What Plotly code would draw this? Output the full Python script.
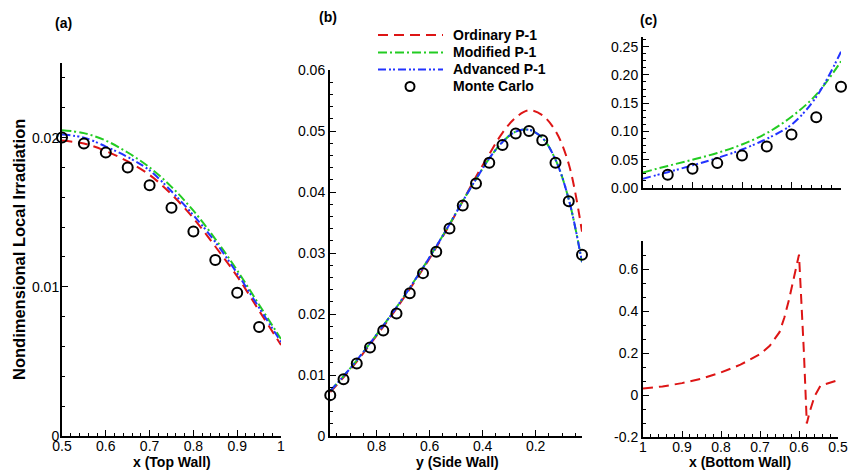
import plotly.graph_objects as go

FONT = "Liberation Sans, Arial, Helvetica, sans-serif"
RED = "#dd1515"
GREEN = "#22cc22"
BLUE = "#2233ff"
W, H = 849, 470

# ---------------- data ----------------
# (a) Top wall
a_x = [0.5, 0.55, 0.6, 0.65, 0.7, 0.75, 0.8, 0.85, 0.9, 0.95, 1.0]
a_ord = [0.0198, 0.0196, 0.0191, 0.0184, 0.0175, 0.0162, 0.0146, 0.0127, 0.0107, 0.0084, 0.0061]
a_mod = [0.0205, 0.0203, 0.0198, 0.0190, 0.0180, 0.0167, 0.0151, 0.0132, 0.0111, 0.0088, 0.0065]
a_adv = [0.0202, 0.0200, 0.0194, 0.0187, 0.0178, 0.0164, 0.0148, 0.0130, 0.0109, 0.0086, 0.0063]
a_mc_x = [0.5, 0.55, 0.6, 0.65, 0.7, 0.75, 0.8, 0.85, 0.9, 0.95]
a_mc = [0.0200, 0.0196, 0.0190, 0.0180, 0.0168, 0.0153, 0.0137, 0.0118, 0.0096, 0.0073]

# (b) Side wall
b_x = [0.975, 0.925, 0.875, 0.825, 0.775, 0.725, 0.675, 0.625, 0.575, 0.525,
       0.475, 0.425, 0.375, 0.325, 0.275, 0.225, 0.175, 0.125, 0.075, 0.025]
b_ord = [0.0072, 0.0096, 0.0122, 0.0150, 0.0179, 0.0209, 0.0241, 0.0274, 0.0309, 0.0346,
         0.0385, 0.0425, 0.0462, 0.0497, 0.0522, 0.0534, 0.0526, 0.0500, 0.0446, 0.0335]
b_mod = [0.0074, 0.0098, 0.0124, 0.0152, 0.0181, 0.0211, 0.0243, 0.0276, 0.0311, 0.0347,
         0.0385, 0.0421, 0.0455, 0.0482, 0.0499, 0.0502, 0.0489, 0.0453, 0.0388, 0.0285]
b_adv = [0.0074, 0.0098, 0.0124, 0.0152, 0.0181, 0.0211, 0.0243, 0.0276, 0.0311, 0.0347,
         0.0385, 0.0421, 0.0455, 0.0482, 0.0499, 0.0502, 0.0489, 0.0453, 0.0388, 0.0285]
b_mc = [0.0067, 0.0093, 0.0119, 0.0145, 0.0173, 0.0201, 0.0234, 0.0267, 0.0302, 0.0340,
        0.0378, 0.0414, 0.0448, 0.0477, 0.0496, 0.0500, 0.0485, 0.0448, 0.0385, 0.0297]

# (c) Bottom wall, upper part
c_x = [1.0, 0.9375, 0.875, 0.8125, 0.75, 0.6875, 0.625, 0.5625, 0.5]
c_mod = [0.0275, 0.039, 0.050, 0.062, 0.077, 0.097, 0.126, 0.165, 0.224]
c_adv = [0.0165, 0.028, 0.040, 0.053, 0.068, 0.087, 0.112, 0.161, 0.241]
c_mc_x = [0.9375, 0.875, 0.8125, 0.75, 0.6875, 0.625, 0.5625, 0.5]
c_mc = [0.0235, 0.034, 0.044, 0.0576, 0.0735, 0.0947, 0.125, 0.179]

# (c) Bottom wall, lower part (Ordinary P-1)
d_x = [1.0, 0.95, 0.9, 0.85, 0.8, 0.75, 0.7, 0.675, 0.65, 0.6375, 0.625, 0.6125, 0.6,
       0.5875, 0.58, 0.5725, 0.56, 0.545, 0.525, 0.5]
d_ord = [0.031, 0.041, 0.057, 0.078, 0.108, 0.145, 0.195, 0.235, 0.300, 0.370, 0.460, 0.560, 0.670,
         0.207, -0.136, -0.080, -0.005, 0.045, 0.058, 0.071]

legend_names = ["Ordinary P-1", "Modified P-1", "Advanced P-1", "Monte Carlo"]

# ---------------- styles ----------------
DASH_ORD = "10px,6px"
DASH_MOD = "9px,3px,2px,3px"
DASH_ADV = "8px,3px,2px,2px,2px,3px"
LW = 2


def line(x, y, color, dash, xa, ya, shape="spline"):
    return go.Scatter(x=x, y=y, mode="lines", xaxis=xa, yaxis=ya,
                      line=dict(color=color, dash=dash, width=LW, shape=shape),
                      hoverinfo="x+y")


def circles(x, y, xa, ya):
    return go.Scatter(x=x, y=y, mode="markers", xaxis=xa, yaxis=ya, cliponaxis=False,
                      marker=dict(symbol="circle-open", size=10, color="black",
                                  line=dict(width=2, color="black")))


fig = go.Figure()
# (a)
fig.add_trace(line(a_x, a_ord, RED, DASH_ORD, "x", "y"))
fig.add_trace(line(a_x, a_mod, GREEN, DASH_MOD, "x", "y"))
fig.add_trace(line(a_x, a_adv, BLUE, DASH_ADV, "x", "y"))
fig.add_trace(circles(a_mc_x, a_mc, "x", "y"))
# (b)
fig.add_trace(line(b_x, b_ord, RED, DASH_ORD, "x2", "y2"))
fig.add_trace(line(b_x, b_mod, GREEN, DASH_MOD, "x2", "y2"))
fig.add_trace(line(b_x, b_adv, BLUE, DASH_ADV, "x2", "y2"))
fig.add_trace(circles(b_x, b_mc, "x2", "y2"))
# (c) upper
fig.add_trace(line(c_x, c_mod, GREEN, DASH_MOD, "x3", "y3"))
fig.add_trace(line(c_x, c_adv, BLUE, DASH_ADV, "x3", "y3"))
fig.add_trace(circles(c_mc_x, c_mc, "x3", "y3"))
# (c) lower
fig.add_trace(line(d_x, d_ord, RED, DASH_ORD, "x4", "y4", shape="linear"))


def px_x(p):
    return p / W


def px_y(p):
    return 1 - p / H


TICKFONT = dict(family=FONT, size=14, color="black")


def axis(domain, rng, dtick, mdtick, anchor, showlabels=True, **kw):
    d = dict(domain=domain, range=rng, anchor=anchor, showline=True, linecolor="black",
             linewidth=2, ticks="inside", ticklen=6, tickwidth=1, tickcolor="black",
             showgrid=False, zeroline=False, tick0=0, dtick=dtick, automargin=False,
             minor=dict(tick0=0, dtick=mdtick, ticks="inside", ticklen=3, tickwidth=1,
                        tickcolor="black", showgrid=False),
             tickfont=TICKFONT, showticklabels=showlabels, fixedrange=True)
    d.update(kw)
    return d


XSTAND = -4

fig.update_layout(
    template="none",
    width=W, height=H, autosize=False,
    margin=dict(l=0, r=0, t=0, b=0, pad=0, autoexpand=False),
    paper_bgcolor="white", plot_bgcolor="white", showlegend=False,
    font=dict(family=FONT, color="black"),
    xaxis=axis([px_x(62), px_x(281)], [0.5, 1.0], 0.1, 0.02, "y", ticklabelstandoff=XSTAND),
    yaxis=axis([px_y(436), px_y(63)], [0, 0.025], 0.01, 0.002, "x", ticklabelstandoff=-2),
    xaxis2=axis([px_x(330), px_x(582)], [0.976, 0.025], 0.2, 0.05, "y2", ticklabelstandoff=XSTAND),
    yaxis2=axis([px_y(436), px_y(70)], [0, 0.06], 0.01, 0.002, "x2"),
    xaxis3=axis([px_x(643), px_x(841)], [1.0, 0.5], 0.125, 0.025, "y3", showlabels=False),
    yaxis3=axis([px_y(188), px_y(37)], [0, 0.267], 0.05, 0.0125, "x3", tickformat=".2f"),
    xaxis4=axis([px_x(643), px_x(838)], [1.0, 0.5], 0.1, 0.02, "y4", ticklabelstandoff=XSTAND),
    yaxis4=axis([px_y(437), px_y(241)], [-0.2, 0.735], 0.2, 0.2 / 3, "x4",
                tickvals=[-0.2, 0, 0.2, 0.4, 0.6], ticktext=["-0.2", "0", "0.2", "0.4", "0.6"]),
)

ann = []


def text(x, y, s, size=14, xanchor="center", angle=0):
    ann.append(dict(x=px_x(x), y=px_y(y), xref="paper", yref="paper", text="<b>%s</b>" % s,
                    showarrow=False, xanchor=xanchor, yanchor="middle", textangle=angle,
                    font=dict(family=FONT, size=size, color="black")))


text(63, 23, "(a)")
text(328, 17, "(b)")
text(648, 20, "(c)")
text(172, 462, "x (Top Wall)")
text(457, 462, "y (Side Wall)")
text(740, 462, "x (Bottom Wall)")
text(19, 250, "Nondimensional Local Irradiation", size=16.5, angle=-90)

# legend
shapes = []
leg_y = [35, 52.5, 69.5, 86.5]
leg_style = [(RED, DASH_ORD), (GREEN, DASH_MOD), (BLUE, DASH_ADV)]
for i, (col, dash) in enumerate(leg_style):
    shapes.append(dict(type="line", xref="paper", yref="paper",
                       x0=px_x(378), x1=px_x(443), y0=px_y(leg_y[i]), y1=px_y(leg_y[i]),
                       line=dict(color=col, dash=dash, width=LW)))
shapes.append(dict(type="circle", xref="paper", yref="paper",
                   x0=px_x(410 - 4.5), x1=px_x(410 + 4.5),
                   y0=px_y(leg_y[3] + 4.5), y1=px_y(leg_y[3] - 4.5),
                   line=dict(color="black", width=2)))
for i, name in enumerate(legend_names):
    text(451, leg_y[i], name, size=14, xanchor="left")

fig.update_layout(annotations=ann, shapes=shapes)
fig.write_html(
    "out.html",
    config={"displayModeBar": False},
    post_script="document.body.style.margin='0';document.body.style.overflow='hidden';",
)
